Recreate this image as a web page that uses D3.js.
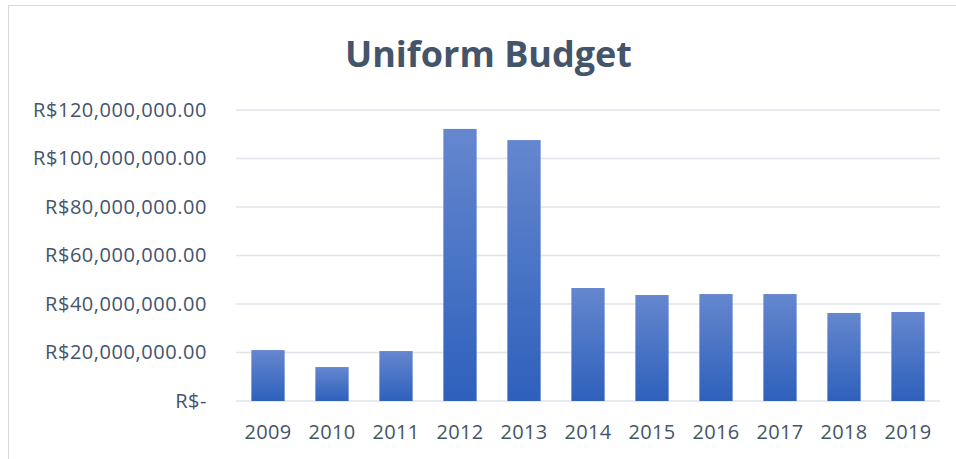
<!DOCTYPE html>
<html>
<head>
<meta charset="utf-8">
<script src="https://cdn.jsdelivr.net/npm/d3@7"></script>
<style>
  body { margin: 0; background: #fff; }
  text { font-family: "Open Sans", "Noto Sans", sans-serif; }
</style>
</head>
<body>
<svg id="chart" width="956" height="459"></svg>
<script>
const years = ["2009", "2010", "2011", "2012", "2013", "2014", "2015", "2016", "2017", "2018", "2019"];
const budget = [21.0e6, 14.0e6, 20.6e6, 112.2e6, 107.6e6, 46.6e6, 43.7e6, 44.1e6, 44.1e6, 36.3e6, 36.7e6];
const yTicks = [0, 20e6, 40e6, 60e6, 80e6, 100e6, 120e6];
const chartTitle = "Uniform Budget";

const svg = d3.select("#chart");
const width = 956, height = 459;
const margin = { top: 110, right: 16, bottom: 58, left: 236 };
const textColor = "#44546A";

// chart area border (right and bottom edges run off the picture)
svg.append("rect")
    .attr("x", 8.5).attr("y", 5.5)
    .attr("width", width).attr("height", height)
    .attr("fill", "#fff")
    .attr("stroke", "#D9D9D9");

const defs = svg.append("defs");
const grad = defs.append("linearGradient")
    .attr("id", "barGrad")
    .attr("x1", 0).attr("y1", 0).attr("x2", 0).attr("y2", 1);
grad.append("stop").attr("offset", "0%").attr("stop-color", "#6587CE");
grad.append("stop").attr("offset", "100%").attr("stop-color", "#2E60BC");

const x = d3.scaleBand()
    .domain(years)
    .range([margin.left, width - margin.right])
    .paddingInner(0.48)
    .paddingOuter(0.24);

const y = d3.scaleLinear()
    .domain([0, 120e6])
    .range([height - margin.bottom, margin.top]);

const fmt = d => d === 0 ? "R$-" : "R$" + d3.format(",.2f")(d);

// gridlines
svg.append("g")
    .selectAll("line")
    .data(yTicks)
    .join("line")
    .attr("x1", margin.left)
    .attr("x2", width - margin.right)
    .attr("y1", d => y(d))
    .attr("y2", d => y(d))
    .attr("stroke", "#E1E4EA")
    .attr("stroke-width", 1.5);

// bars
svg.append("g")
    .selectAll("rect")
    .data(years.map((yr, i) => ({ year: yr, value: budget[i] })))
    .join("rect")
    .attr("x", d => x(d.year))
    .attr("y", d => y(d.value))
    .attr("width", x.bandwidth())
    .attr("height", d => y(0) - y(d.value))
    .attr("fill", "url(#barGrad)");

// y axis
const yAxis = svg.append("g")
    .attr("transform", `translate(${margin.left - 29},0)`)
    .call(d3.axisLeft(y).tickValues(yTicks).tickFormat(fmt).tickSize(0).tickPadding(0));
yAxis.select(".domain").remove();
yAxis.selectAll("text")
    .attr("fill", textColor)
    .style("font-size", "20px")
    .style("letter-spacing", "0.55px")
    .style("font-family", "\"Open Sans\", sans-serif");

// x axis
const xAxis = svg.append("g")
    .attr("transform", `translate(0,${height - margin.bottom})`)
    .call(d3.axisBottom(x).tickSize(0).tickPadding(24));
xAxis.select(".domain").remove();
xAxis.selectAll("text")
    .attr("fill", textColor)
    .style("font-size", "20px")
    .style("letter-spacing", "0.3px")
    .style("font-family", "\"Open Sans\", sans-serif");

// title
svg.append("text")
    .attr("x", (349 + 628) / 2)
    .attr("y", 67)
    .attr("text-anchor", "middle")
    .attr("fill", textColor)
    .style("font-size", "36px")
    .style("font-weight", "bold")
    .text(chartTitle);
</script>
</body>
</html>
